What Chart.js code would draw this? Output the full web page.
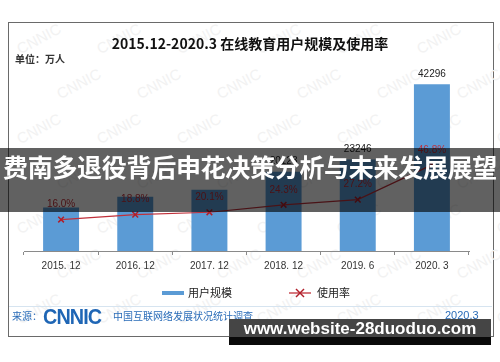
<!DOCTYPE html>
<html><head><meta charset="utf-8">
<script src="https://cdn.jsdelivr.net/npm/chart.js@4/dist/chart.umd.min.js"></script>
<style>
html,body{margin:0;padding:0;background:#fff;width:500px;height:362px;overflow:hidden;position:relative;font-family:"Liberation Sans","Noto Sans CJK SC",sans-serif;}
.abs{position:absolute;white-space:nowrap;}
#frame{left:8px;top:22px;width:484px;height:313px;border:1px solid #6a6a6a;}
#chartbox{left:0;top:0;width:500px;height:290px;}
#title{left:0;width:500px;top:33px;text-align:center;font:bold 14px "Noto Sans CJK SC",sans-serif;color:#111;line-height:20px;}
#unit{left:15px;top:52px;font:bold 10px "Noto Sans CJK SC",sans-serif;color:#333;line-height:14px;}
.wm{color:#f2f2f2;font:15px "Liberation Sans",sans-serif;transform:rotate(-28deg);}
#sep{left:9px;top:306px;width:483px;height:1px;background:#d6e4f0;}
.src{color:#2a6cb8;font:10px "Noto Sans CJK SC",sans-serif;line-height:14px;}
#logo{left:43px;top:304px;color:#1f66b5;font:bold 22px "Liberation Sans",sans-serif;letter-spacing:-1px;transform:scaleX(0.9);transform-origin:left;}
#banner{left:0;top:148px;width:500px;height:64px;background:rgba(0,0,0,0.62);}
#bannertext{left:0;top:148px;width:500px;height:64px;line-height:64px;text-align:center;color:#fff;font:bold 25px "Noto Sans CJK SC",sans-serif;letter-spacing:-0.3px;}
#site1{left:229px;top:319px;width:262px;height:18px;background:#454545;}
#site2{left:229px;top:337px;width:262px;height:8px;background:#0a0a0a;}
#sitetext{left:229px;top:319px;width:262px;height:26px;line-height:26px;text-align:center;color:#fff;font:bold 17px "Liberation Sans",sans-serif;}
.leg{font:11px "Noto Sans CJK SC",sans-serif;color:#222;line-height:14px;}
</style></head>
<body>
<div class="abs" id="frame"></div>
<div id="wms"></div>
<div class="abs" id="chartbox"><canvas id="c"></canvas></div>
<div class="abs" id="title">2015.12-2020.3 在线教育用户规模及使用率</div>
<div class="abs" id="unit">单位：万人</div>
<div class="abs" style="left:162px;top:291px;width:22px;height:4px;background:#5b9bd5;"></div>
<div class="abs leg" style="left:188px;top:285px;">用户规模</div>
<svg class="abs" style="left:288px;top:287px;" width="24" height="12"><line x1="1" y1="6" x2="23" y2="6" stroke="#c0303a" stroke-width="1.3"/><line x1="8" y1="2" x2="16" y2="10" stroke="#b01f2a" stroke-width="1.5"/><line x1="16" y1="2" x2="8" y2="10" stroke="#b01f2a" stroke-width="1.5"/></svg>
<div class="abs leg" style="left:317px;top:285px;">使用率</div>
<div class="abs" id="sep"></div>
<div class="abs src" style="left:12px;top:309px;">来源：</div>
<div class="abs" id="logo">CNNIC</div>
<div class="abs src" style="left:113px;top:309px;">中国互联网络发展状况统计调查</div>
<div class="abs src" style="left:445px;top:308px;font-family:'Liberation Sans',sans-serif;font-size:11px;">2020.3</div>
<div class="abs" id="banner"></div>
<div class="abs" id="bannertext">费南多退役背后申花决策分析与未来发展展望</div>
<div class="abs" id="site1"></div>
<div class="abs" id="site2"></div>
<div class="abs" id="sitetext">www.website-28duoduo.com</div>
<script>
const categories = ['2015. 12','2016. 12','2017. 12','2018. 12','2019. 6','2020. 3'];
const userScale = [11014, 13764, 15518, 20123, 23246, 42296];
const usageRate = [16.0, 18.8, 20.1, 24.3, 27.2, 46.8];
const showValueLabel = [false, false, false, true, true, true];
const seriesNames = ['用户规模','使用率'];

// faint background watermarks
(function(){
  const w = document.getElementById('wms');
  for (let r = 0; r < 7; r++) {
    for (let c = 0; c < 7; c++) {
      const d = document.createElement('div');
      d.className = 'abs wm';
      d.textContent = 'CNNIC';
      d.style.left = (15 + c * 80 + (r % 2) * 40) + 'px';
      d.style.top = (30 + r * 45) + 'px';
      w.appendChild(d);
    }
  }
})();

const labelPlugin = {
  id: 'valueLabels',
  afterDatasetsDraw(chart) {
    const ctx = chart.ctx;
    ctx.save();
    ctx.textAlign = 'center';
    ctx.textBaseline = 'middle';
    ctx.font = '10px "Liberation Sans", sans-serif';
    const barMeta = chart.getDatasetMeta(1);
    barMeta.data.forEach((el, i) => {
      if (!showValueLabel[i]) return;
      ctx.fillStyle = '#222';
      ctx.fillText(String(userScale[i]), el.x, el.y - 10);
    });
    const lineMeta = chart.getDatasetMeta(0);
    lineMeta.data.forEach((el, i) => {
      ctx.fillStyle = '#c0303a';
      ctx.fillText(usageRate[i].toFixed(1) + '%', el.x, el.y - 15);
    });
    ctx.restore();
  }
};

new Chart(document.getElementById('c'), {
  data: {
    labels: categories,
    datasets: [
      {
        type: 'line', label: seriesNames[1], data: usageRate, yAxisID: 'y2', order: 0,
        borderColor: '#c0303a', borderWidth: 1.2, tension: 0,
        pointStyle: 'crossRot', pointRadius: 4, pointBorderColor: '#b01f2a', pointBorderWidth: 1.5,
        pointBackgroundColor: '#b01f2a'
      },
      {
        type: 'bar', label: seriesNames[0], data: userScale, yAxisID: 'y', order: 1,
        backgroundColor: '#5b9bd5', categoryPercentage: 1, barPercentage: 0.485
      }
    ]
  },
  options: {
    responsive: true, maintainAspectRatio: false, animation: false,
    layout: { padding: { left: 24, right: 31, top: 54, bottom: 19 } },
    plugins: { legend: { display: false }, tooltip: { enabled: false }, title: { display: false } },
    scales: {
      x: {
        offset: true,
        grid: { display: true, drawOnChartArea: false, offset: true, tickLength: 4, color: '#8a8a8a' },
        border: { display: true, color: '#8a8a8a' },
        ticks: { color: '#333', font: { size: 10, family: '"Liberation Sans", sans-serif' }, padding: 5, maxRotation: 0 },
        afterFit(s) { s.height = 20; }
      },
      y: { display: false, min: 0, max: 50000 },
      y2: { display: false, min: -1.7, max: 109.2 }
    }
  },
  plugins: [labelPlugin]
});
</script>
</body></html>
